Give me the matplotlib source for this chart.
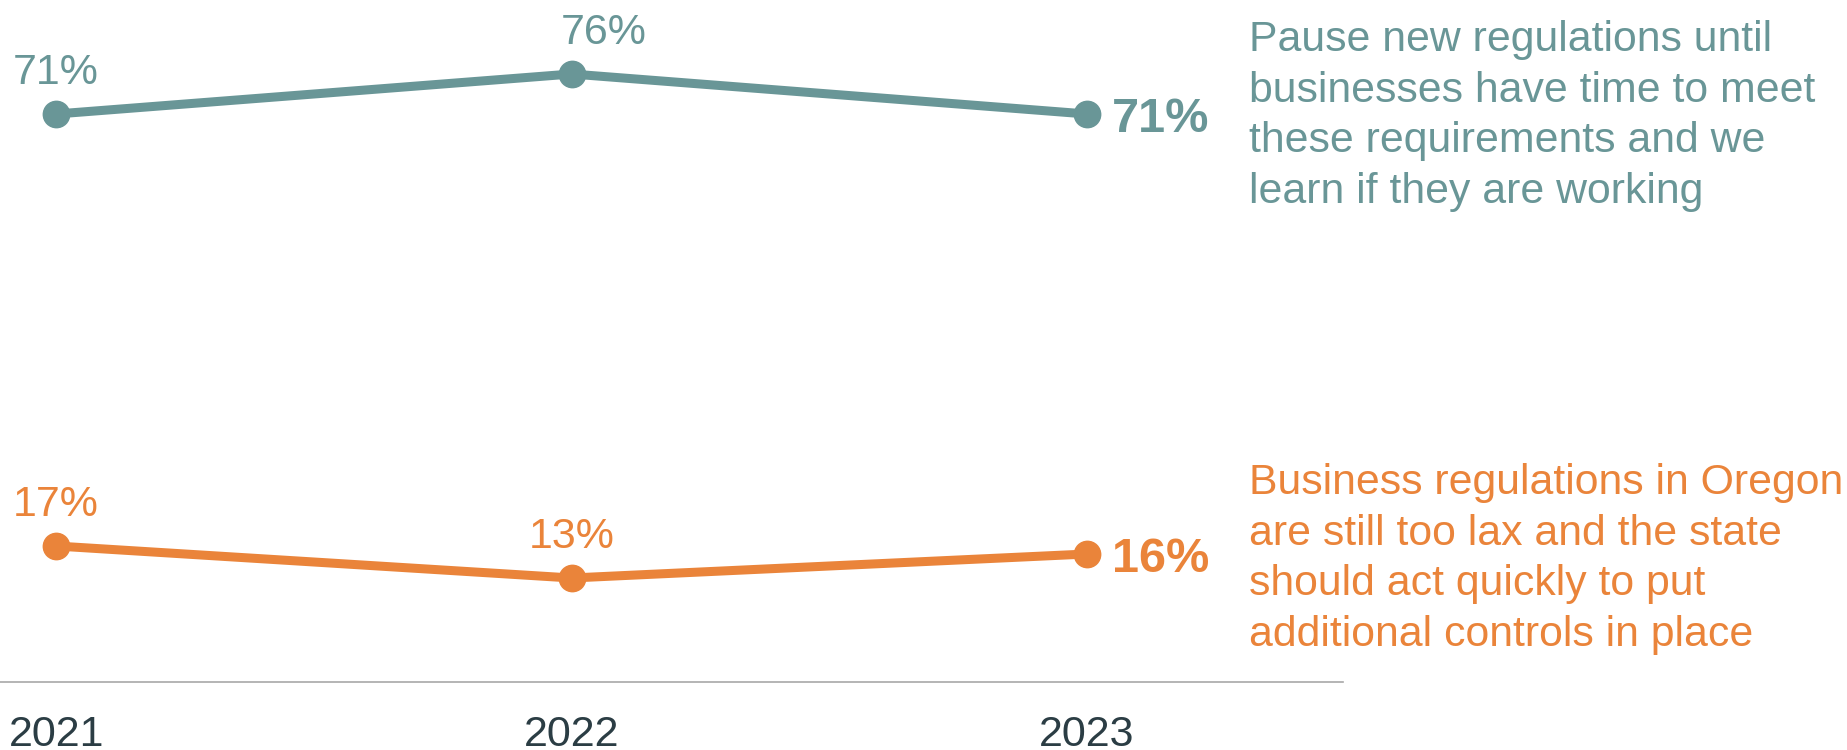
import matplotlib
matplotlib.use("Agg")
import matplotlib.pyplot as plt
from matplotlib import transforms

# Survey data
years = [2021, 2022, 2023]
pause_vals = [71, 76, 71]
lax_vals = [17, 13, 16]
pause_label = ("Pause new regulations until\nbusinesses have time to meet\n"
               "these requirements and we\nlearn if they are working")
lax_label = ("Business regulations in Oregon\nare still too lax and the state\n"
             "should act quickly to put\nadditional controls in place")

TEAL = "#699697"
ORANGE = "#ea843a"
DARK = "#2b3d44"
FONT = "Liberation Sans"

plt.rcParams["font.family"] = [FONT, "DejaVu Sans"]

W, H, DPI = 1847, 750, 100
fig = plt.figure(figsize=(W / DPI, H / DPI), dpi=DPI)
ax = fig.add_axes([0, 68 / H, 1343 / W, 682 / H])
ax.set_xlim(2020.891, 2023.497)
ax.set_ylim(0, 85.25)

for sp in ("top", "left", "right"):
    ax.spines[sp].set_visible(False)
ax.spines["bottom"].set_color("#a8a8a8")
ax.spines["bottom"].set_linewidth(1.2)
ax.set_yticks([])
ax.set_xticks([])

PX = 72 / DPI  # points per pixel

series = [(pause_vals, TEAL), (lax_vals, ORANGE)]
for vals, col in series:
    ax.plot(years, vals, color=col, lw=6.5, marker="o", ms=19,
            solid_capstyle="round", zorder=3)
    # value labels above the first two points
    for i in range(2):
        dx = 32 if (vals is pause_vals and i == 1) else 0
        ax.annotate(f"{vals[i]}%", (years[i], vals[i]),
                    xytext=(dx * PX, 30 * PX), textcoords="offset points",
                    ha="center", va="baseline", fontsize=31, color=col)
    # bold latest value to the right of the last point
    ax.annotate(f"{vals[-1]}%", (years[-1], vals[-1]),
                xytext=(25 * PX, -18.5 * PX), textcoords="offset points",
                ha="left", va="baseline", fontsize=35, fontweight="bold",
                color=col)

# year labels along the bottom
trans = transforms.blended_transform_factory(ax.transData, fig.transFigure)
for y in years:
    ax.text(y, 4 / H, str(y), transform=trans, ha="center", va="baseline",
            fontsize=31, color=DARK, clip_on=False)

# series descriptions on the right (anchored at the last line's baseline)
fig.text(1249 / W, 1 - 203 / H, pause_label, ha="left", va="baseline",
         fontsize=30.8, color=TEAL, linespacing=1.34)
fig.text(1249 / W, 1 - 646 / H, lax_label, ha="left", va="baseline",
         fontsize=30.8, color=ORANGE, linespacing=1.34)

fig.savefig("out.png", dpi=DPI)
